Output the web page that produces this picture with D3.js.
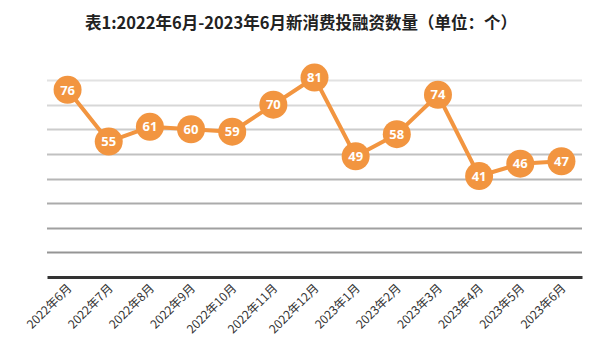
<!DOCTYPE html>
<html><head><meta charset="utf-8">
<script src="https://cdnjs.cloudflare.com/ajax/libs/d3/7.8.5/d3.min.js"></script>
<style>body{margin:0;background:#fff}</style>
</head><body><svg id="c" width="601" height="361"></svg>
<script>
const categories = ["2022年6月","2022年7月","2022年8月","2022年9月","2022年10月","2022年11月","2022年12月","2023年1月","2023年2月","2023年3月","2023年4月","2023年5月","2023年6月"];
const values = [76,55,61,60,59,70,81,49,58,74,41,46,47];
const yTicks = [0,10,20,30,40,50,60,70,80];
const title = "表1:2022年6月-2023年6月新消费投融资数量（单位：个）";

const svg = d3.select("#c");
const m = {l:47, r:19, t:80, b:84};
const W = 601, H = 361;
const x = d3.scaleBand().domain(categories).range([m.l, W - m.r]);
const y = d3.scaleLinear().domain([0,80]).range([H - m.b, m.t]);
const font = "'Noto Sans CJK SC', 'Microsoft YaHei', sans-serif";

svg.append("text").attr("x", 301).attr("y", 29).attr("text-anchor","middle")
  .attr("font-family", font).attr("font-weight","bold").attr("font-size",16.5).attr("fill","#222").text(title);

const gc = d3.interpolateRgb("#e2e2e2", "#8a8a8a");
svg.append("g").selectAll("line").data(yTicks.filter(d=>d>0)).join("line")
  .attr("x1", m.l).attr("x2", W - m.r)
  .attr("y1", d=>Math.round(y(d))+0.5).attr("y2", d=>Math.round(y(d))+0.5)
  .attr("stroke", d=> gc(1 - d/80)).attr("stroke-width", 2);

const xAxis = svg.append("g").attr("transform", `translate(0,${y(0)})`)
  .call(d3.axisBottom(x).tickSize(0).tickPadding(0));
xAxis.select(".domain").attr("stroke","#333").attr("stroke-width",3);
xAxis.selectAll("text").attr("font-family", font).attr("font-size", 12).attr("fill","#333")
  .attr("text-anchor","end").attr("dy", null).attr("y", 0)
  .attr("transform","translate(5,12) rotate(-45)");

const cx = d => x(d) + x.bandwidth()/2;
const line = d3.line().x((d,i)=>cx(categories[i])).y(d=>y(d));
svg.append("path").datum(values).attr("d", line).attr("fill","none")
  .attr("stroke","#F29540").attr("stroke-width",4).attr("stroke-linejoin","round");

const pts = svg.append("g").selectAll("g").data(values).join("g")
  .attr("transform",(d,i)=>`translate(${cx(categories[i])},${y(d)})`);
pts.append("circle").attr("r",14).attr("fill","#F29540");
pts.append("text").attr("text-anchor","middle").attr("dy","0.36em")
  .attr("font-family","'Open Sans', Arial, sans-serif").attr("font-weight","bold").attr("font-size",13)
  .attr("fill","#fff").text(d=>d);
</script></body></html>
